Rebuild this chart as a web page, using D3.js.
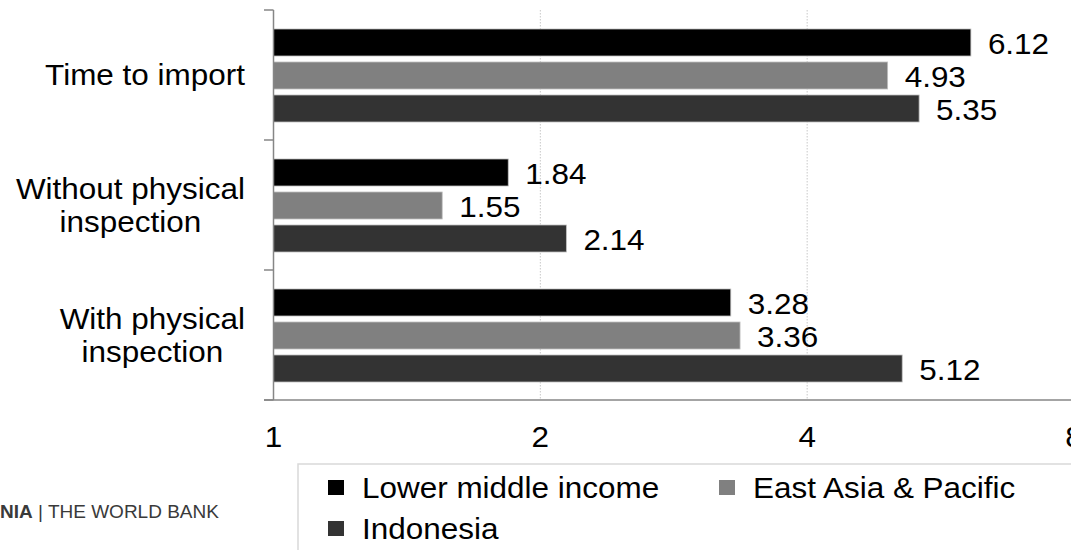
<!DOCTYPE html>
<html>
<head>
<meta charset="utf-8">
<script src="https://cdn.jsdelivr.net/npm/d3@7"></script>
<style>
  html, body { margin: 0; padding: 0; background: #fff; }
  svg { display: block; }
  text { font-family: "Liberation Sans", Arial, sans-serif; fill: #000; }
</style>
</head>
<body>
<svg id="chart" width="1071" height="550"></svg>
<script>
// ---- data ----
const categories = ["Time to import", "Without physical inspection", "With physical inspection"];
const categoryLines = [["Time to import"], ["Without physical", "inspection"], ["With physical", "inspection"]];
const seriesNames = ["Lower middle income", "East Asia & Pacific", "Indonesia"];
const lowerMiddleIncome = [6.12, 1.84, 3.28];
const eastAsiaPacific = [4.93, 1.55, 3.36];
const indonesia = [5.35, 2.14, 5.12];
const xTicks = [1, 2, 4, 8];
const seriesColors = ["#000000", "#808080", "#333333"];

const seriesValues = [lowerMiddleIncome, eastAsiaPacific, indonesia];

// ---- layout ----
const FS = 29, SX = 1.085;
const svg = d3.select("#chart");
const axisX = 273.5, plotTop = 10, plotBottom = 400;

const x = d3.scaleLog().base(2).domain([1, 8]).range([axisX, 1074]);
const y0 = d3.scaleBand().domain(categories).range([plotTop, plotBottom]).padding(0);
const y1 = d3.scaleBand().domain(seriesNames).range([19, 112]).paddingInner(6 / 33).paddingOuter(0);

function stretchedText(g, str, tx, ty, anchor) {
  return g.append("text")
    .attr("transform", `translate(${tx},${ty}) scale(${SX},1)`)
    .attr("text-anchor", anchor || "start")
    .attr("font-size", FS)
    .text(str);
}

// gridlines (dotted)
svg.append("g").selectAll("line")
  .data(xTicks.slice(1))
  .join("line")
  .attr("x1", d => x(d)).attr("x2", d => x(d))
  .attr("y1", plotTop).attr("y2", plotBottom)
  .attr("stroke", "#c8c8c8").attr("stroke-width", 1)
  .attr("stroke-dasharray", "1.5,1.5");

// bars
const groups = svg.append("g").selectAll("g")
  .data(categories)
  .join("g")
  .attr("transform", c => `translate(0,${y0(c)})`);

groups.each(function (c, ci) {
  const g = d3.select(this);
  seriesNames.forEach((s, si) => {
    const v = seriesValues[si][ci];
    g.append("rect")
      .attr("x", x(1))
      .attr("y", y1(s))
      .attr("width", x(v) - x(1))
      .attr("height", y1.bandwidth())
      .attr("fill", seriesColors[si])
      .attr("stroke", "#bfbfbf")
      .attr("stroke-width", 0.8);
    stretchedText(g, v.toFixed(2), x(v) + 17, y1(s) + y1.bandwidth() / 2 + 11, "start");
  });
});

// axes lines
const axisColor = "#868686";
svg.append("line").attr("x1", axisX).attr("x2", axisX).attr("y1", plotTop).attr("y2", plotBottom)
  .attr("stroke", axisColor).attr("stroke-width", 1.5);
svg.append("line").attr("x1", 264).attr("x2", 1071).attr("y1", plotBottom).attr("y2", plotBottom)
  .attr("stroke", axisColor).attr("stroke-width", 1.5);
// category ticks
const catEdges = categories.map(c => y0(c)).concat([plotBottom]);
svg.append("g").selectAll("line").data(catEdges).join("line")
  .attr("x1", 264).attr("x2", axisX).attr("y1", d => d).attr("y2", d => d)
  .attr("stroke", axisColor).attr("stroke-width", 1.5);

// x tick labels
const xl = svg.append("g");
xTicks.forEach(t => stretchedText(xl, String(t), x(t), 447, "middle"));

// category labels (lines centred on each other, block right-aligned)
const cl = svg.append("g");
const lh = 33;
categories.forEach((c, ci) => {
  const lines = categoryLines[ci];
  const cy = y0(c) + y0.bandwidth() / 2;
  const widths = lines.map(l => {
    const t = cl.append("text").attr("font-size", FS).text(l);
    const w = t.node().getComputedTextLength() * SX;
    t.remove();
    return w;
  });
  const maxW = d3.max(widths);
  const cx = 245 - maxW / 2;
  lines.forEach((l, li) => {
    const by = cy + (li - (lines.length - 1) / 2) * lh + 10.4;
    stretchedText(cl, l, cx, by, "middle");
  });
});

// legend box
svg.append("path")
  .attr("d", "M298,551 L298,464 L1072,464")
  .attr("fill", "none").attr("stroke", "#d9d9d9").attr("stroke-width", 1.5);

const legendPos = [[328, 488], [719, 488], [328, 529]];
const lg = svg.append("g");
seriesNames.forEach((s, i) => {
  const [lx, ly] = legendPos[i];
  lg.append("rect").attr("x", lx).attr("y", ly - 8).attr("width", 16).attr("height", 15)
    .attr("fill", seriesColors[i]);
  stretchedText(lg, s, lx + 34, ly + 10, "start");
});

// footer logo text
const ft = svg.append("text")
  .attr("x", 0).attr("y", 518)
  .attr("font-family", "'Open Sans', 'DejaVu Sans', sans-serif")
  .attr("font-size", 19)
  .style("fill", "#3a3a3a");
ft.append("tspan").attr("font-weight", "bold").text("NIA");
ft.append("tspan").text(" | THE WORLD BANK");
</script>
</body>
</html>
